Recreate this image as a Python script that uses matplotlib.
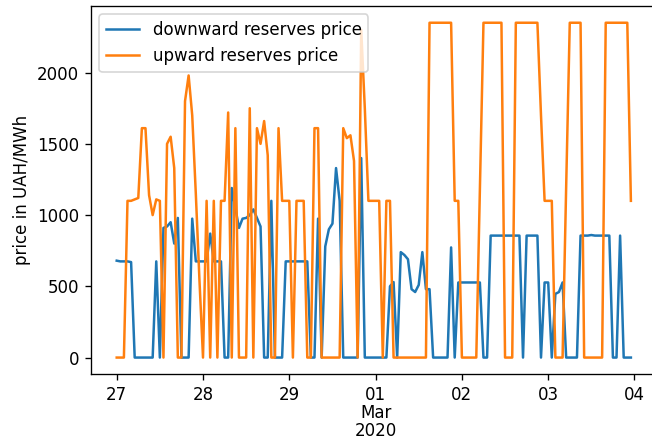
import matplotlib

matplotlib.use("Agg")

import matplotlib.dates as mdates
import matplotlib.pyplot as plt
import pandas as pd
from matplotlib.ticker import FuncFormatter

# hourly reserve prices, UAH/MWh, starting 2020-02-27 00:00
start = "2020-02-27 00:00"

downward = [
    # 27 Feb
    680, 675, 675, 675, 670, 0, 0, 0, 0, 0, 0, 675,
    0, 910, 920, 950, 800, 980, 0, 0, 0, 975, 675, 675,
    # 28 Feb
    675, 675, 870, 675, 675, 675, 0, 0, 1190, 1050, 910, 975,
    980, 1000, 1040, 980, 920, 0, 0, 1100, 0, 0, 0, 675,
    # 29 Feb
    675, 675, 675, 675, 675, 675, 0, 0, 975, 0, 780, 900,
    940, 1330, 1100, 0, 0, 0, 0, 0, 1400, 0, 0, 0,
    # 01 Mar
    0, 0, 0, 0, 500, 530, 0, 740, 720, 690, 480, 460,
    510, 740, 480, 480, 0, 0, 0, 0, 0, 773, 0, 527,
    # 02 Mar
    527, 527, 527, 527, 527, 527, 0, 0, 856, 856, 856, 856,
    856, 856, 856, 856, 856, 0, 856, 856, 856, 856, 0, 527,
    # 03 Mar
    527, 0, 447, 460, 527, 0, 0, 0, 0, 856, 856, 856,
    860, 856, 856, 856, 856, 856, 0, 0, 856, 0, 0, 0,
]

upward = [
    # 27 Feb
    0, 0, 0, 1100, 1100, 1110, 1120, 1610, 1610, 1140, 1000, 1110,
    1100, 0, 1500, 1550, 1330, 0, 0, 1800, 1980, 1700, 1150, 550,
    # 28 Feb
    0, 1100, 0, 1100, 0, 1100, 1100, 1720, 0, 1610, 0, 0,
    0, 1750, 0, 1610, 1500, 1660, 1420, 0, 0, 1610, 1100, 1100,
    # 29 Feb
    1100, 0, 1100, 1100, 1100, 0, 0, 1610, 1610, 0, 0, 0,
    0, 0, 0, 1610, 1540, 1560, 1380, 0, 2300, 1750, 1100, 1100,
    # 01 Mar
    1100, 1100, 0, 1100, 1100, 0, 0, 0, 0, 0, 0, 0,
    0, 0, 0, 2350, 2350, 2350, 2350, 2350, 2350, 2350, 1100, 1100,
    # 02 Mar
    0, 0, 0, 0, 0, 1180, 2350, 2350, 2350, 2350, 2350, 2350,
    0, 0, 0, 2350, 2350, 2350, 2350, 2350, 2350, 2350, 1700, 1100,
    # 03 Mar
    1100, 1100, 0, 0, 0, 1200, 2350, 2350, 2350, 2350, 0, 0,
    0, 0, 0, 0, 2350, 2350, 2350, 2350, 2350, 2350, 2350, 1100,
]

labels = ["downward reserves price", "upward reserves price"]
ylabel = "price in UAH/MWh"

times = pd.date_range(start, periods=len(upward), freq="h")


def _day_label(x, pos=None):
    d = mdates.num2date(x)
    if d.day == 1:
        return d.strftime("%d\n%b\n%Y")
    return d.strftime("%d")


fig = plt.figure(figsize=(652 / 120, 442 / 120), dpi=120)
ax = fig.add_axes([91 / 652, 67.7 / 442, 565.6 / 652, 368.3 / 442])

ax.plot(times, downward, color="tab:blue", label=labels[0])
ax.plot(times, upward, color="tab:orange", label=labels[1])

ax.xaxis.set_major_locator(mdates.DayLocator())
ax.xaxis.set_major_formatter(FuncFormatter(_day_label))
ax.set_ylabel(ylabel)
ax.legend(loc="upper left")

# tighter line spacing so the "01 / Mar / 2020" stack fits under the axis
fig.canvas.draw()
for tick in ax.xaxis.get_major_ticks():
    tick.label1.set_linespacing(1.0)

fig.savefig("out.png", dpi=120)
